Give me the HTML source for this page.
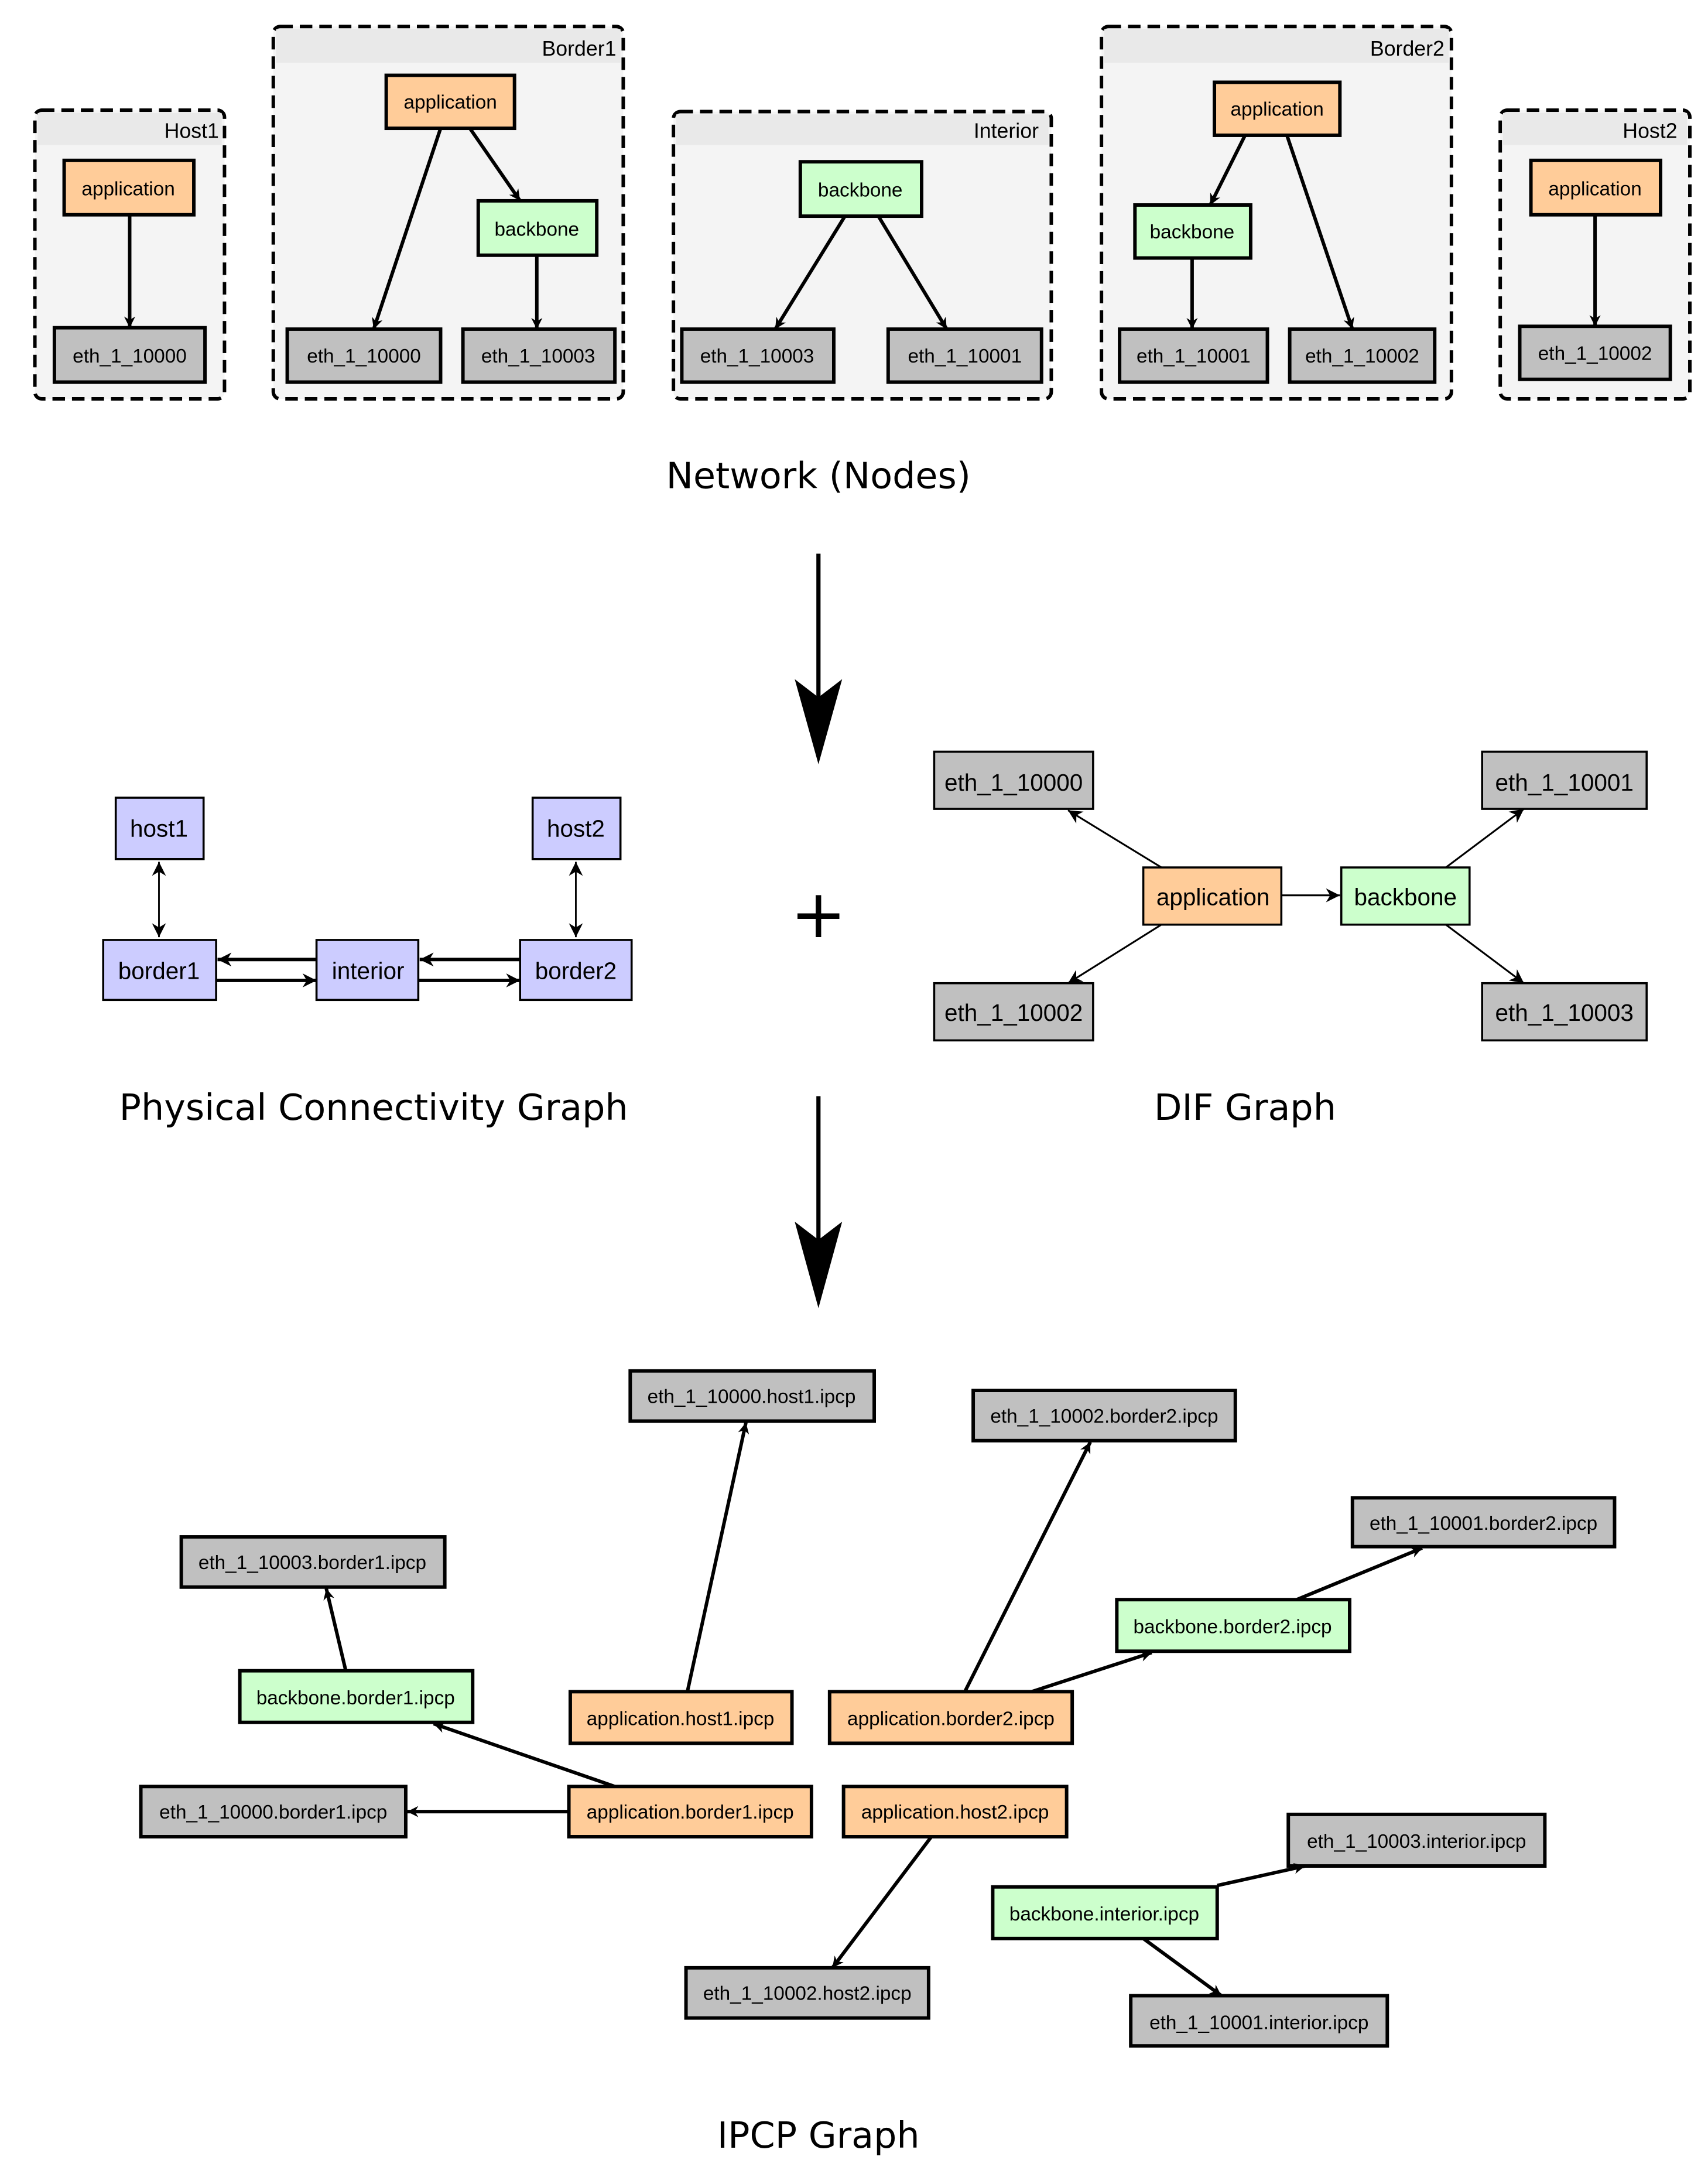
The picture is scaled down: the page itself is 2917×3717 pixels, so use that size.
<!DOCTYPE html>
<html><head><meta charset="utf-8"><style>html,body{margin:0;padding:0;background:#fff}svg{display:block}</style></head>
<body>
<svg width="2917" height="3717" viewBox="0 0 1225 1561" xmlns="http://www.w3.org/2000/svg">
<defs>
<marker id="a" viewBox="0 0 10 10" refX="10" refY="5" markerWidth="5" markerHeight="5" orient="auto" markerUnits="userSpaceOnUse"><path d="M0,0 L10,5 L0,10 L3,5 Z" fill="#000"/></marker>
<marker id="b" viewBox="0 0 10 10" refX="10" refY="5" markerWidth="12" markerHeight="8" orient="auto" markerUnits="userSpaceOnUse"><path d="M0,0 L10,5 L0,10 L3,5 Z" fill="#000"/></marker>
<marker id="c" viewBox="0 0 10 10" refX="10" refY="5" markerWidth="14" markerHeight="10" orient="auto" markerUnits="userSpaceOnUse"><path d="M0,0 L10,5 L0,10 L3,5 Z" fill="#000"/></marker>
<marker id="cs" viewBox="0 0 10 10" refX="0" refY="5" markerWidth="14" markerHeight="10" orient="auto" markerUnits="userSpaceOnUse"><path d="M10,0 L0,5 L10,10 L7,5 Z" fill="#000"/></marker>
</defs>
<g font-family="Liberation Sans, Arial, sans-serif" text-anchor="middle">
<!-- clusters -->
<g stroke="#000" stroke-width="2.5" stroke-dasharray="9,5" fill="#f4f4f4">
<rect x="25" y="79" width="136" height="207" rx="5"/>
<rect x="196" y="19" width="251" height="267" rx="5"/>
<rect x="483" y="80" width="271" height="206" rx="5"/>
<rect x="790" y="19" width="251" height="267" rx="5"/>
<rect x="1076" y="79" width="136" height="207" rx="5"/>
</g>
<g fill="#e9e9e9">
<rect x="27" y="81" width="132" height="23"/>
<rect x="198" y="21" width="247" height="24"/>
<rect x="485" y="82" width="267" height="22"/>
<rect x="792" y="21" width="247" height="24"/>
<rect x="1078" y="81" width="132" height="23"/>
</g>
<g font-size="15" text-anchor="end">
<text x="157" y="99">Host1</text><text x="442" y="40">Border1</text><text x="745" y="99">Interior</text><text x="1036" y="40">Border2</text><text x="1203" y="99">Host2</text>
</g>
<g stroke="#000" stroke-width="2.5">
<rect x="46" y="115" width="93" height="39" fill="#ffcc99"/>
<rect x="39" y="235" width="108" height="39" fill="#c0c0c0"/>
<rect x="277" y="54" width="92" height="38" fill="#ffcc99"/>
<rect x="343" y="144" width="85" height="39" fill="#ccffcc"/>
<rect x="206" y="236" width="110" height="38" fill="#c0c0c0"/>
<rect x="332" y="236" width="109" height="38" fill="#c0c0c0"/>
<rect x="574" y="116" width="87" height="39" fill="#ccffcc"/>
<rect x="489" y="236" width="109" height="38" fill="#c0c0c0"/>
<rect x="637" y="236" width="110" height="38" fill="#c0c0c0"/>
<rect x="871" y="59" width="90" height="38" fill="#ffcc99"/>
<rect x="814" y="147" width="83" height="38" fill="#ccffcc"/>
<rect x="803" y="236" width="106" height="38" fill="#c0c0c0"/>
<rect x="925" y="236" width="104" height="38" fill="#c0c0c0"/>
<rect x="1098" y="115" width="93" height="39" fill="#ffcc99"/>
<rect x="1090" y="234" width="108" height="38" fill="#c0c0c0"/>
</g>
<g font-size="14">
<text x="92" y="140">application</text><text x="93" y="260">eth_1_10000</text>
<text x="323" y="78">application</text><text x="385" y="169">backbone</text>
<text x="261" y="260">eth_1_10000</text><text x="386" y="260">eth_1_10003</text>
<text x="617" y="141">backbone</text><text x="543" y="260">eth_1_10003</text><text x="692" y="260">eth_1_10001</text>
<text x="916" y="83">application</text><text x="855" y="171">backbone</text>
<text x="856" y="260">eth_1_10001</text><text x="977" y="260">eth_1_10002</text>
<text x="1144" y="140">application</text><text x="1144" y="258">eth_1_10002</text>
</g>
<g stroke="#000" stroke-width="2.5" fill="none" marker-end="url(#b)">
<path d="M93,154 L93,235"/>
<path d="M316,92 L268,236"/><path d="M337,92 L373,144"/><path d="M385,183 L385,236"/>
<path d="M606,155 L556,236"/><path d="M630,155 L679,236"/>
<path d="M893,97 L868,147"/><path d="M923,97 L970,236"/><path d="M855,185 L855,236"/>
<path d="M1144,154 L1144,234"/>
</g>
<g font-family="DejaVu Sans, sans-serif" font-size="26">
<text x="587" y="350">Network (Nodes)</text>
<text x="268" y="803">Physical Connectivity Graph</text>
<text x="893" y="803">DIF Graph</text>
<text x="587" y="1540">IPCP Graph</text>
</g>
<!-- big arrows -->
<line x1="587" y1="397" x2="587" y2="500" stroke="#000" stroke-width="3"/>
<path d="M570,487 L587,548 L604,487 L587,500 Z"/>
<line x1="587" y1="786" x2="587" y2="890" stroke="#000" stroke-width="3"/>
<path d="M570,876 L587,938 L604,876 L587,889 Z"/>
<text x="587" y="672" font-family="DejaVu Sans, sans-serif" font-size="48">+</text>
<!-- physical -->
<g stroke="#000" stroke-width="1.5" fill="#ccccff">
<rect x="83" y="572" width="63" height="44"/><rect x="382" y="572" width="63" height="44"/>
<rect x="74" y="674" width="81" height="43"/><rect x="227" y="674" width="73" height="43"/><rect x="373" y="674" width="80" height="43"/>
</g>
<g font-size="17">
<text x="114" y="600">host1</text><text x="413" y="600">host2</text>
<text x="114" y="702">border1</text><text x="264" y="702">interior</text><text x="413" y="702">border2</text>
</g>
<g stroke="#000" fill="none">
<path d="M114,618 L114,672" stroke-width="1.2" marker-start="url(#cs)" marker-end="url(#c)"/>
<path d="M413,618 L413,672" stroke-width="1.2" marker-start="url(#cs)" marker-end="url(#c)"/>
<g stroke-width="2.5" marker-end="url(#c)">
<path d="M227,688 L156,688"/><path d="M155,703 L227,703"/>
<path d="M373,688 L301,688"/><path d="M300,703 L373,703"/>
</g>
</g>
<!-- DIF -->
<g stroke="#000" stroke-width="1.5">
<rect x="670" y="539" width="114" height="41" fill="#c0c0c0"/><rect x="1063" y="539" width="118" height="41" fill="#c0c0c0"/>
<rect x="820" y="622" width="99" height="41" fill="#ffcc99"/><rect x="962" y="622" width="92" height="41" fill="#ccffcc"/>
<rect x="670" y="705" width="114" height="41" fill="#c0c0c0"/><rect x="1063" y="705" width="118" height="41" fill="#c0c0c0"/>
</g>
<g font-size="17">
<text x="727" y="567">eth_1_10000</text><text x="1122" y="567">eth_1_10001</text>
<text x="870" y="649">application</text><text x="1008" y="649">backbone</text>
<text x="727" y="732">eth_1_10002</text><text x="1122" y="732">eth_1_10003</text>
</g>
<g stroke="#000" stroke-width="1.3" fill="none" marker-end="url(#c)">
<path d="M833,622 L766,581"/><path d="M919,642 L961,642"/><path d="M1037,622 L1093,580"/>
<path d="M833,663 L766,705"/><path d="M1037,663 L1093,705"/>
</g>
<!-- IPCP -->
<g stroke="#000" stroke-width="2.5">
<rect x="452" y="983" width="175" height="36" fill="#c0c0c0"/>
<rect x="698" y="997" width="188" height="36" fill="#c0c0c0"/>
<rect x="970" y="1074" width="188" height="35" fill="#c0c0c0"/>
<rect x="130" y="1102" width="189" height="36" fill="#c0c0c0"/>
<rect x="801" y="1147" width="167" height="37" fill="#ccffcc"/>
<rect x="172" y="1198" width="167" height="37" fill="#ccffcc"/>
<rect x="409" y="1213" width="159" height="37" fill="#ffcc99"/>
<rect x="595" y="1213" width="174" height="37" fill="#ffcc99"/>
<rect x="101" y="1281" width="190" height="36" fill="#c0c0c0"/>
<rect x="408" y="1281" width="174" height="36" fill="#ffcc99"/>
<rect x="605" y="1281" width="160" height="36" fill="#ffcc99"/>
<rect x="924" y="1301" width="184" height="37" fill="#c0c0c0"/>
<rect x="712" y="1353" width="161" height="37" fill="#ccffcc"/>
<rect x="492" y="1411" width="174" height="36" fill="#c0c0c0"/>
<rect x="811" y="1431" width="184" height="36" fill="#c0c0c0"/>
</g>
<g font-size="14">
<text x="539" y="1006">eth_1_10000.host1.ipcp</text>
<text x="792" y="1020">eth_1_10002.border2.ipcp</text>
<text x="1064" y="1097">eth_1_10001.border2.ipcp</text>
<text x="224" y="1125">eth_1_10003.border1.ipcp</text>
<text x="884" y="1171">backbone.border2.ipcp</text>
<text x="255" y="1222">backbone.border1.ipcp</text>
<text x="488" y="1237">application.host1.ipcp</text>
<text x="682" y="1237">application.border2.ipcp</text>
<text x="196" y="1304">eth_1_10000.border1.ipcp</text>
<text x="495" y="1304">application.border1.ipcp</text>
<text x="685" y="1304">application.host2.ipcp</text>
<text x="1016" y="1325">eth_1_10003.interior.ipcp</text>
<text x="792" y="1377">backbone.interior.ipcp</text>
<text x="579" y="1434">eth_1_10002.host2.ipcp</text>
<text x="903" y="1455">eth_1_10001.interior.ipcp</text>
</g>
<g stroke="#000" stroke-width="2.5" fill="none" marker-end="url(#b)">
<path d="M493,1213 L535,1020"/>
<path d="M692,1213 L782,1034"/>
<path d="M740,1213 L826,1185"/>
<path d="M930,1147 L1020,1110"/>
<path d="M248,1198 L234,1139"/>
<path d="M441,1281 L311,1236"/>
<path d="M408,1299 L292,1299"/>
<path d="M668,1317 L597,1411"/>
<path d="M873,1352 L936,1338"/>
<path d="M820,1390 L876,1431"/>
</g>
</g>
</svg>
</body></html>
